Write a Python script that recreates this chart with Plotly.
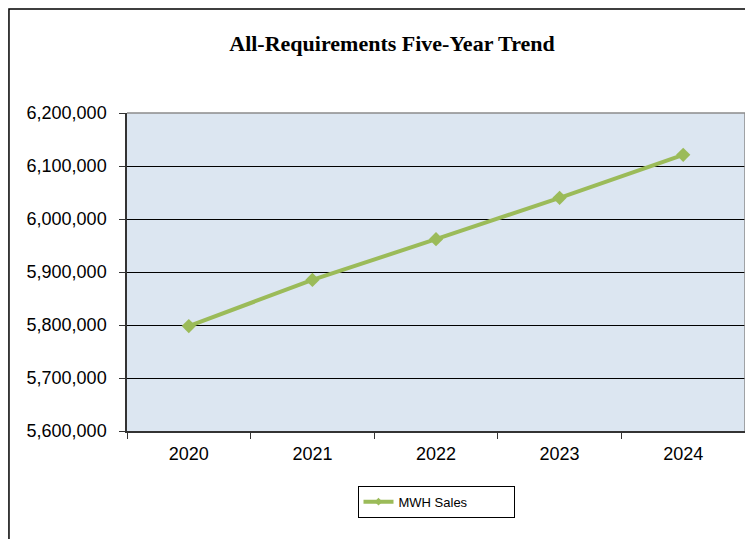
"""All-Requirements five-year trend, rebuilt as a Plotly line chart."""

import plotly.graph_objects as go

# Data
years = ["2020", "2021", "2022", "2023", "2024"]
mwh_sales = [5798000, 5885000, 5962000, 6040000, 6121000]
y_ticks = [5600000, 5700000, 5800000, 5900000, 6000000, 6100000, 6200000]

GREEN = "#9bbb59"
PLOT_BG = "#dce6f1"
INK = "#000000"
AXIS = "#333333"

fig = go.Figure()
fig.add_trace(
    go.Scatter(
        x=years,
        y=mwh_sales,
        mode="lines+markers",
        name="MWH Sales",
        showlegend=False,
        line=dict(color=GREEN, width=4),
        marker=dict(symbol="diamond", size=11, color=GREEN),
    )
)
# legend entry only: thinner look with a small marker, like the original key
fig.add_trace(
    go.Scatter(
        x=[None],
        y=[None],
        mode="lines+markers",
        name="MWH Sales",
        line=dict(color=GREEN, width=4),
        marker=dict(symbol="diamond", size=6, color=GREEN),
    )
)

# outer chart frame (only top and left edges fall inside the picture)
fig.add_shape(
    type="rect", xref="paper", yref="paper",
    x0=-0.191, x1=1.2, y0=-0.8, y1=1.327,
    line=dict(color=INK, width=1.5), layer="below",
)
# grey frame on top and right of the plot area
fig.add_shape(
    type="path", xref="paper", yref="paper",
    path="M 0,1 L 1,1 L 1,0",
    line=dict(color="#8c8c8c", width=1.5),
)

fig.update_xaxes(
    type="category",
    range=[-0.5, 4.5],
    tickson="boundaries",
    ticks="outside",
    ticklen=6,
    tickcolor=AXIS,
    ticklabelstandoff=6,
    showline=True,
    linecolor=AXIS,
    linewidth=1.5,
    showgrid=False,
    tickfont=dict(family="Liberation Sans, Arial", size=18, color=INK),
)
fig.update_yaxes(
    range=[5600000, 6200000],
    tickvals=y_ticks,
    tickformat=",d",
    ticks="outside",
    ticklen=6,
    tickcolor=AXIS,
    ticklabelstandoff=9,
    showline=True,
    linecolor=AXIS,
    linewidth=1.5,
    showgrid=True,
    gridcolor="#000000",
    gridwidth=1,
    zeroline=False,
    tickfont=dict(family="Liberation Sans, Arial", size=18, color=INK),
)

# the page body adds an 8px offset, so the figure is drawn 8px smaller
fig.update_layout(
    width=745,
    height=531,
    margin=dict(l=119, r=8, t=105, b=108),
    paper_bgcolor="white",
    plot_bgcolor=PLOT_BG,
    title=dict(
        text="<b>All-Requirements Five-Year Trend</b>",
        x=384 / 745,
        xanchor="center",
        y=1 - 35 / 531,
        yanchor="middle",
        font=dict(family="Liberation Serif, Times New Roman", size=22, color=INK),
    ),
    showlegend=True,
    legend=dict(
        orientation="h",
        x=0.5,
        xanchor="center",
        y=-0.172,
        yanchor="top",
        bordercolor=INK,
        borderwidth=1,
        entrywidth=110,
        font=dict(family="Liberation Sans, Arial", size=13, color=INK),
    ),
)

fig.write_html("out.html")
